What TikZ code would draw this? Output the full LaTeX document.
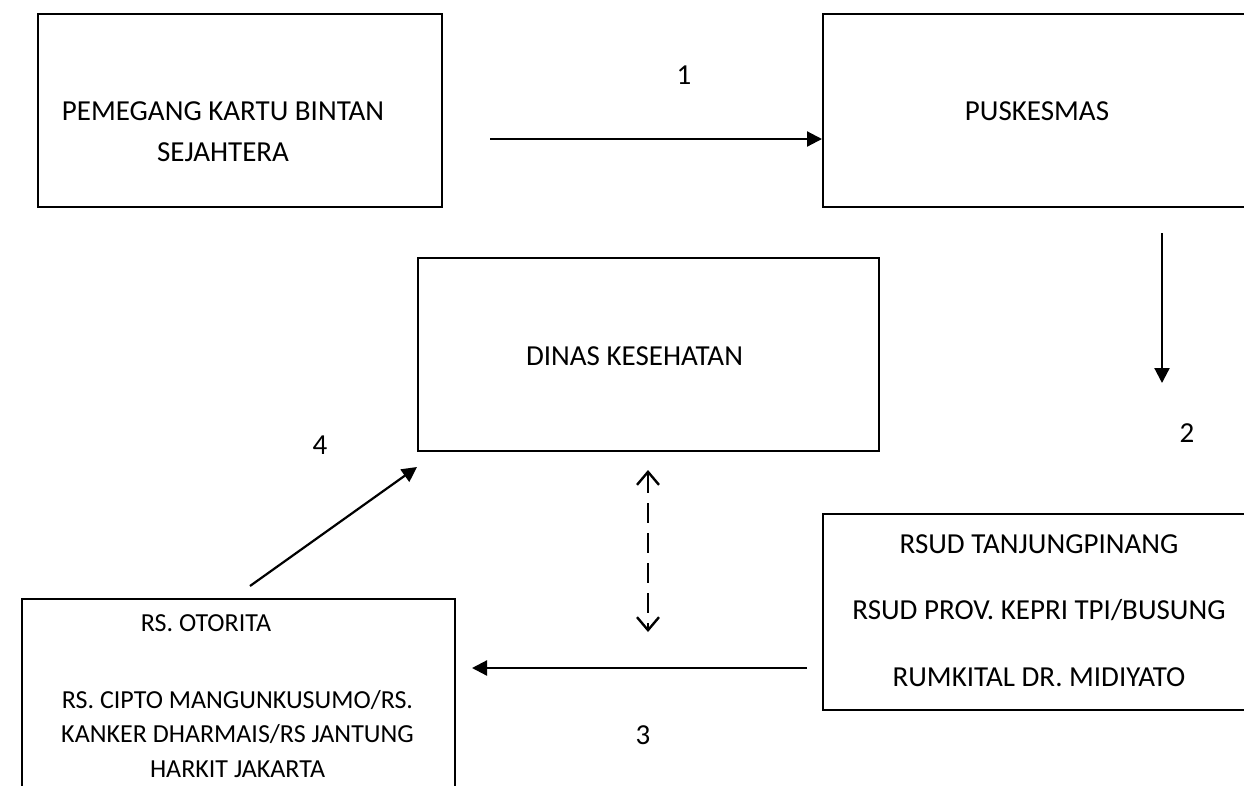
\documentclass[tikz,border=0pt]{standalone}
\usepackage{fontspec}
\setmainfont{Carlito}
\usetikzlibrary{arrows.meta, positioning, calc}

\begin{document}
\begin{tikzpicture}[x=1pt, y=-1pt,
    flowbox/.style={draw=black, line width=2pt, inner sep=0pt},
    boxtext/.style={font=\fontsize{29}{34.5}\selectfont, align=center, inner sep=0pt},
    smalltext/.style={font=\fontsize{26}{34.5}\selectfont, align=center, inner sep=0pt},
    numlabel/.style={font=\fontsize{29}{34}\selectfont, inner sep=0pt},
    flowarrow/.style={line width=2.2pt, -{Triangle[length=15pt, width=15pt]}},
    dasharrow/.style={line width=2.4pt, dash pattern=on 20pt off 10pt,
        {Straight Barb[length=13pt, width=22pt, line width=2.4pt]}-{Straight Barb[length=13pt, width=22pt, line width=2.4pt]}}]

\useasboundingbox (0,0) rectangle (1244,785);
\clip (0,0) rectangle (1244,785);

% === Boxes ===
\node[flowbox, minimum width=404pt, minimum height=193pt] (kartu) at (240,110.5) {};
\node[flowbox, minimum width=428pt, minimum height=193pt] (puskesmas) at (1037,110.5) {};
\node[flowbox, minimum width=461pt, minimum height=193pt] (dinkes) at (648.5,354.5) {};
\node[flowbox, minimum width=428pt, minimum height=196pt] (rsud) at (1037,612) {};
\node[flowbox, minimum width=433pt, minimum height=281pt] (otorita) at (238.5,739.5) {};

% Box texts
\node[boxtext] (kartutext) at (223,131.75) {PEMEGANG KARTU BINTAN\\[7pt]SEJAHTERA};
\node[boxtext] (puskesmastext) at (1037,111) {PUSKESMAS};
\node[boxtext] (dinkestext) at (634.5,356) {DINAS KESEHATAN};
\node[boxtext] (rsudtext) at (1039,610.5)
    {RSUD TANJUNGPINANG\\[32pt]RSUD PROV. KEPRI TPI/BUSUNG\\[32pt]RUMKITAL DR. MIDIYATO};
\node[smalltext] (otoritatop) at (206,623.5) {RS. OTORITA};
\node[smalltext] (otoritatext) at (237.5,734)
    {RS. CIPTO MANGUNKUSUMO/RS.\\KANKER DHARMAIS/RS JANTUNG\\HARKIT JAKARTA};

% === Arrows ===
\coordinate (a1s) at (490,139);
\coordinate (a2s) at (1162,233);
\coordinate (a2e) at (1162,383);
\coordinate (dtop) at (648,470);
\coordinate (dbot) at (648,632);
\coordinate (a3s) at (807,668);
\coordinate (a3e) at (472,668);
\coordinate (a4s) at (250,586);
\coordinate (a4e) at (417,467);

\draw[flowarrow] (a1s) -- (a1s -| puskesmas.west);
\draw[flowarrow] (a2s) -- (a2e);
\draw[dasharrow] (dtop) -- (dbot);
\draw[flowarrow] (a3s) -- (a3e);
\draw[flowarrow] (a4s) -- (a4e);

% Step numbers
\node[numlabel] (n1) at (684,75) {1};
\node[numlabel] (n2) at (1187,433) {2};
\node[numlabel] (n3) at (643,735) {3};
\node[numlabel] (n4) at (320,445) {4};

\end{tikzpicture}
\end{document}
